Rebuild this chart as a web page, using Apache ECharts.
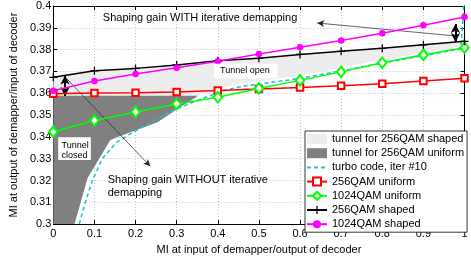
<!DOCTYPE html>
<html><head><meta charset="utf-8">
<script src="https://cdn.jsdelivr.net/npm/echarts@6/dist/echarts.min.js"></script>
<style>html,body{margin:0;padding:0;background:#fff}#c{width:471px;height:260px}</style>
</head><body><div id="c"></div>
<script>
// ---- data ----
const miIn = [0, 0.1, 0.2, 0.3, 0.4, 0.5, 0.6, 0.7, 0.8, 0.9, 1.0];
const qam256Uniform = [0.3598, 0.3601, 0.3602, 0.3606, 0.3613, 0.3620, 0.3626, 0.3634, 0.3644, 0.3656, 0.3669];
const qam1024Uniform = [0.3423, 0.3475, 0.3514, 0.3551, 0.3582, 0.3622, 0.3659, 0.3698, 0.3740, 0.3776, 0.3809];
const qam256Shaped = [0.3673, 0.3703, 0.3714, 0.3730, 0.3749, 0.3760, 0.3778, 0.3792, 0.3806, 0.3822, 0.3838];
const qam1024Shaped = [0.3611, 0.3656, 0.3688, 0.3717, 0.3747, 0.3780, 0.3811, 0.3842, 0.3875, 0.3912, 0.3950];
const turboX = [0.063, 0.078, 0.095, 0.119, 0.154, 0.2297, 0.297, 0.364, 0.42, 0.46, 0.6, 0.8, 0.9, 0.99, 0.995, 0.998];
const turboY = [0.300, 0.310, 0.320, 0.330, 0.3376, 0.346, 0.3526, 0.3577, 0.3615, 0.3632, 0.3668, 0.3738, 0.3772, 0.3803, 0.390, 0.400];
const tunnelShapedX = [0, 0.1, 0.2, 0.3, 0.4, 0.5, 0.6, 0.7, 0.8, 0.9, 0.98, 0.98, 0.8, 0.6, 0.45, 0.37, 0.35, 0];
const tunnelShapedY = [0.3673, 0.3703, 0.3714, 0.3730, 0.3749, 0.3760, 0.3778, 0.3792, 0.3806, 0.3822, 0.3835, 0.3812, 0.3753, 0.3680, 0.3645, 0.3600, 0.3588, 0.3588];
const tunnelUniformX = [0, 0.3525, 0.30, 0.2534, 0.1584, 0.1387, 0.0832, 0.0515, 0];
const tunnelUniformY = [0.3588, 0.3588, 0.3525, 0.3467, 0.3401, 0.3386, 0.3210, 0.3000, 0.3000];
const xTickLabels = ['0', '0.1', '0.2', '0.3', '0.4', '0.5', '0.6', '0.7', '0.8', '0.9', '1'];
const yTickLabels = ['0.3', '0.31', '0.32', '0.33', '0.34', '0.35', '0.36', '0.37', '0.38', '0.39', '0.4'];
const seriesNames = ['tunnel for 256QAM shaped', 'tunnel for 256QAM uniform', 'turbo code, iter #10',
  '256QAM uniform', '1024QAM uniform', '256QAM shaped', '1024QAM shaped'];

// ---- annotation placement (data coordinates) ----
const thickArrows = [[[0.0285, 0.3681], [0.0285, 0.3587]], [[0.978, 0.3918], [0.978, 0.3835]]];
const thinArrows = [[[0.030, 0.3672], [0.2359, 0.3265]], [[0.976, 0.3863], [0.6418, 0.3922]]];

const FONT = '"Liberation Sans", Arial, Helvetica, sans-serif';
const chart = echarts.init(document.getElementById('c'), null, {renderer: 'canvas'});

function polySeries(name, xs, ys, color, z) {
  return {
    type: 'custom', name: name, z: z, silent: true,
    data: xs.map((x, i) => [x, ys[i]]),
    encode: {x: 0, y: 1},
    itemStyle: {color: color},
    renderItem: function (params, api) {
      if (params.dataIndex !== 0) return null;
      const pts = xs.map((x, i) => api.coord([x, ys[i]]));
      return {type: 'polygon', shape: {points: pts}, style: {fill: color, stroke: null}};
    }
  };
}
function lineSeries(name, ys, color, symbol, size, extra) {
  return Object.assign({
    type: 'line', name: name, data: miIn.map((x, i) => [x, ys[i]]),
    symbol: symbol, symbolSize: size, showSymbol: true,
    lineStyle: {color: color, width: 1.5},
    itemStyle: {color: color, borderColor: color, borderWidth: 1.2},
    emphasis: {disabled: true}, z: 5
  }, extra || {});
}
const axisCommon = {
  axisLine: {show: true, onZero: false, lineStyle: {color: '#000', width: 1}},
  axisTick: {show: true, inside: true, length: 4, lineStyle: {color: '#000'}}
};

const option = {
  animation: false,
  textStyle: {fontFamily: FONT},
  grid: {left: 43.3, right: 6.5, top: 6, bottom: 27.5},
  xAxis: [
    Object.assign({
      type: 'value', min: 0, max: 1, interval: 0.1, position: 'bottom',
      axisLabel: {color: '#000', fontSize: 11, margin: 4, formatter: v => xTickLabels[Math.round(v * 10)]},
      splitLine: {show: true, lineStyle: {color: '#c4c4c4', type: [1, 2], width: 1}},
      name: 'MI at input of demapper/output of decoder', nameLocation: 'middle', nameGap: 15,
      nameTextStyle: {color: '#000', fontSize: 11}
    }, axisCommon),
    Object.assign({type: 'value', min: 0, max: 1, interval: 0.1, position: 'top',
      axisLabel: {show: false}, splitLine: {show: false}}, axisCommon)
  ],
  yAxis: [
    Object.assign({
      type: 'value', min: 0.3, max: 0.4, interval: 0.01, position: 'left',
      axisLabel: {color: '#000', fontSize: 11, margin: 2, formatter: v => yTickLabels[Math.round((v - 0.3) * 100)]},
      splitLine: {show: true, lineStyle: {color: '#c4c4c4', type: [1, 2], width: 1}},
      name: 'MI at output of demapper/input of decoder', nameLocation: 'middle', nameGap: 29,
      nameTextStyle: {color: '#000', fontSize: 11}
    }, axisCommon),
    Object.assign({type: 'value', min: 0.3, max: 0.4, interval: 0.01, position: 'right',
      axisLabel: {show: false}, splitLine: {show: false}}, axisCommon)
  ],
  legend: {
    orient: 'vertical', left: 305, top: 131, padding: [2, 3, 2, 1], itemGap: 2.2,
    itemWidth: 20, itemHeight: 10, backgroundColor: '#fff', borderColor: '#000', borderWidth: 0.8,
    selectedMode: false,
    textStyle: {fontSize: 11, color: '#000', lineHeight: 12, fontFamily: FONT},
    data: [
      {name: seriesNames[0], icon: 'rect'}, {name: seriesNames[1], icon: 'rect'},
      seriesNames[2], seriesNames[3], seriesNames[4], seriesNames[5], seriesNames[6]
    ]
  },
  series: [
    polySeries(seriesNames[0], tunnelShapedX, tunnelShapedY, '#ededed', 1),
    polySeries(seriesNames[1], tunnelUniformX, tunnelUniformY, '#808080', 2),
    {
      type: 'line', name: seriesNames[2], data: turboX.map((x, i) => [x, turboY[i]]),
      symbol: 'none', showSymbol: false, z: 3,
      lineStyle: {color: '#1cc4cc', width: 1.5, type: [4, 3]},
      itemStyle: {color: '#1cc4cc', opacity: 0}, emphasis: {disabled: true}
    },
    lineSeries(seriesNames[3], qam256Uniform, '#ff0000', 'emptyRect', 6.5),
    lineSeries(seriesNames[4], qam1024Uniform, '#00ff00', 'emptyDiamond', [8.5, 10.5]),
    lineSeries(seriesNames[5], qam256Shaped, '#000000', 'path://M4.2,0h1.6v10h-1.6zM0,4.2h10v1.6h-10z', 8,
      {itemStyle: {color: '#000'}}),
    lineSeries(seriesNames[6], qam1024Shaped, '#ff00ff', 'circle', 6.5, {itemStyle: {color: '#ff00ff'}}),
    {
      type: 'line', name: 'arrowsThick', data: [], z: 8,
      markLine: {
        silent: true, animation: false, symbol: ['arrow', 'arrow'], symbolSize: [7, 9],
        label: {show: false}, emphasis: {disabled: true},
        lineStyle: {color: '#000', width: 2, type: 'solid'},
        data: thickArrows.map(a => [{coord: a[0]}, {coord: a[1]}])
      }
    },
    {
      type: 'line', name: 'arrowsThin', data: [], z: 8,
      markLine: {
        silent: true, animation: false, symbol: ['none', 'arrow'], symbolSize: [5, 7],
        label: {show: false}, emphasis: {disabled: true},
        lineStyle: {color: '#222', width: 0.7, type: 'solid'},
        data: thinArrows.map(a => [{coord: a[0]}, {coord: a[1]}])
      }
    }
  ]
};
chart.setOption(option);

const px = p => chart.convertToPixel({gridIndex: 0}, p);
function box(p0, p1) {
  const a = px(p0), b = px(p1);
  return {type: 'rect', z: 50, shape: {x: a[0], y: a[1], width: b[0] - a[0], height: b[1] - a[1]},
    style: {fill: '#fff', stroke: null}};
}
function txt(p, text, size, extra) {
  const a = px(p);
  return {type: 'text', z: 51, x: a[0], y: a[1],
    style: Object.assign({text: text, fill: '#000', font: size + 'px ' + FONT, verticalAlign: 'middle', align: 'left'}, extra || {})};
}
chart.setOption({
  graphic: [
    box([0.391, 0.3735], [0.5456, 0.3669]),
    txt([0.4055, 0.3702], 'Tunnel open', 9),
    box([0.0119, 0.3398], [0.0912, 0.3294]),
    txt([0.02, 0.3380], 'Tunnel\nclosed', 9, {verticalAlign: 'top', lineHeight: 9.5}),
    txt([0.1204, 0.3947], 'Shaping gain WITH iterative demapping', 11),
    txt([0.1323, 0.3230], 'Shaping gain WITHOUT iterative\ndemapping', 11, {verticalAlign: 'top', lineHeight: 12.6})
  ]
});
</script>
</body></html>
